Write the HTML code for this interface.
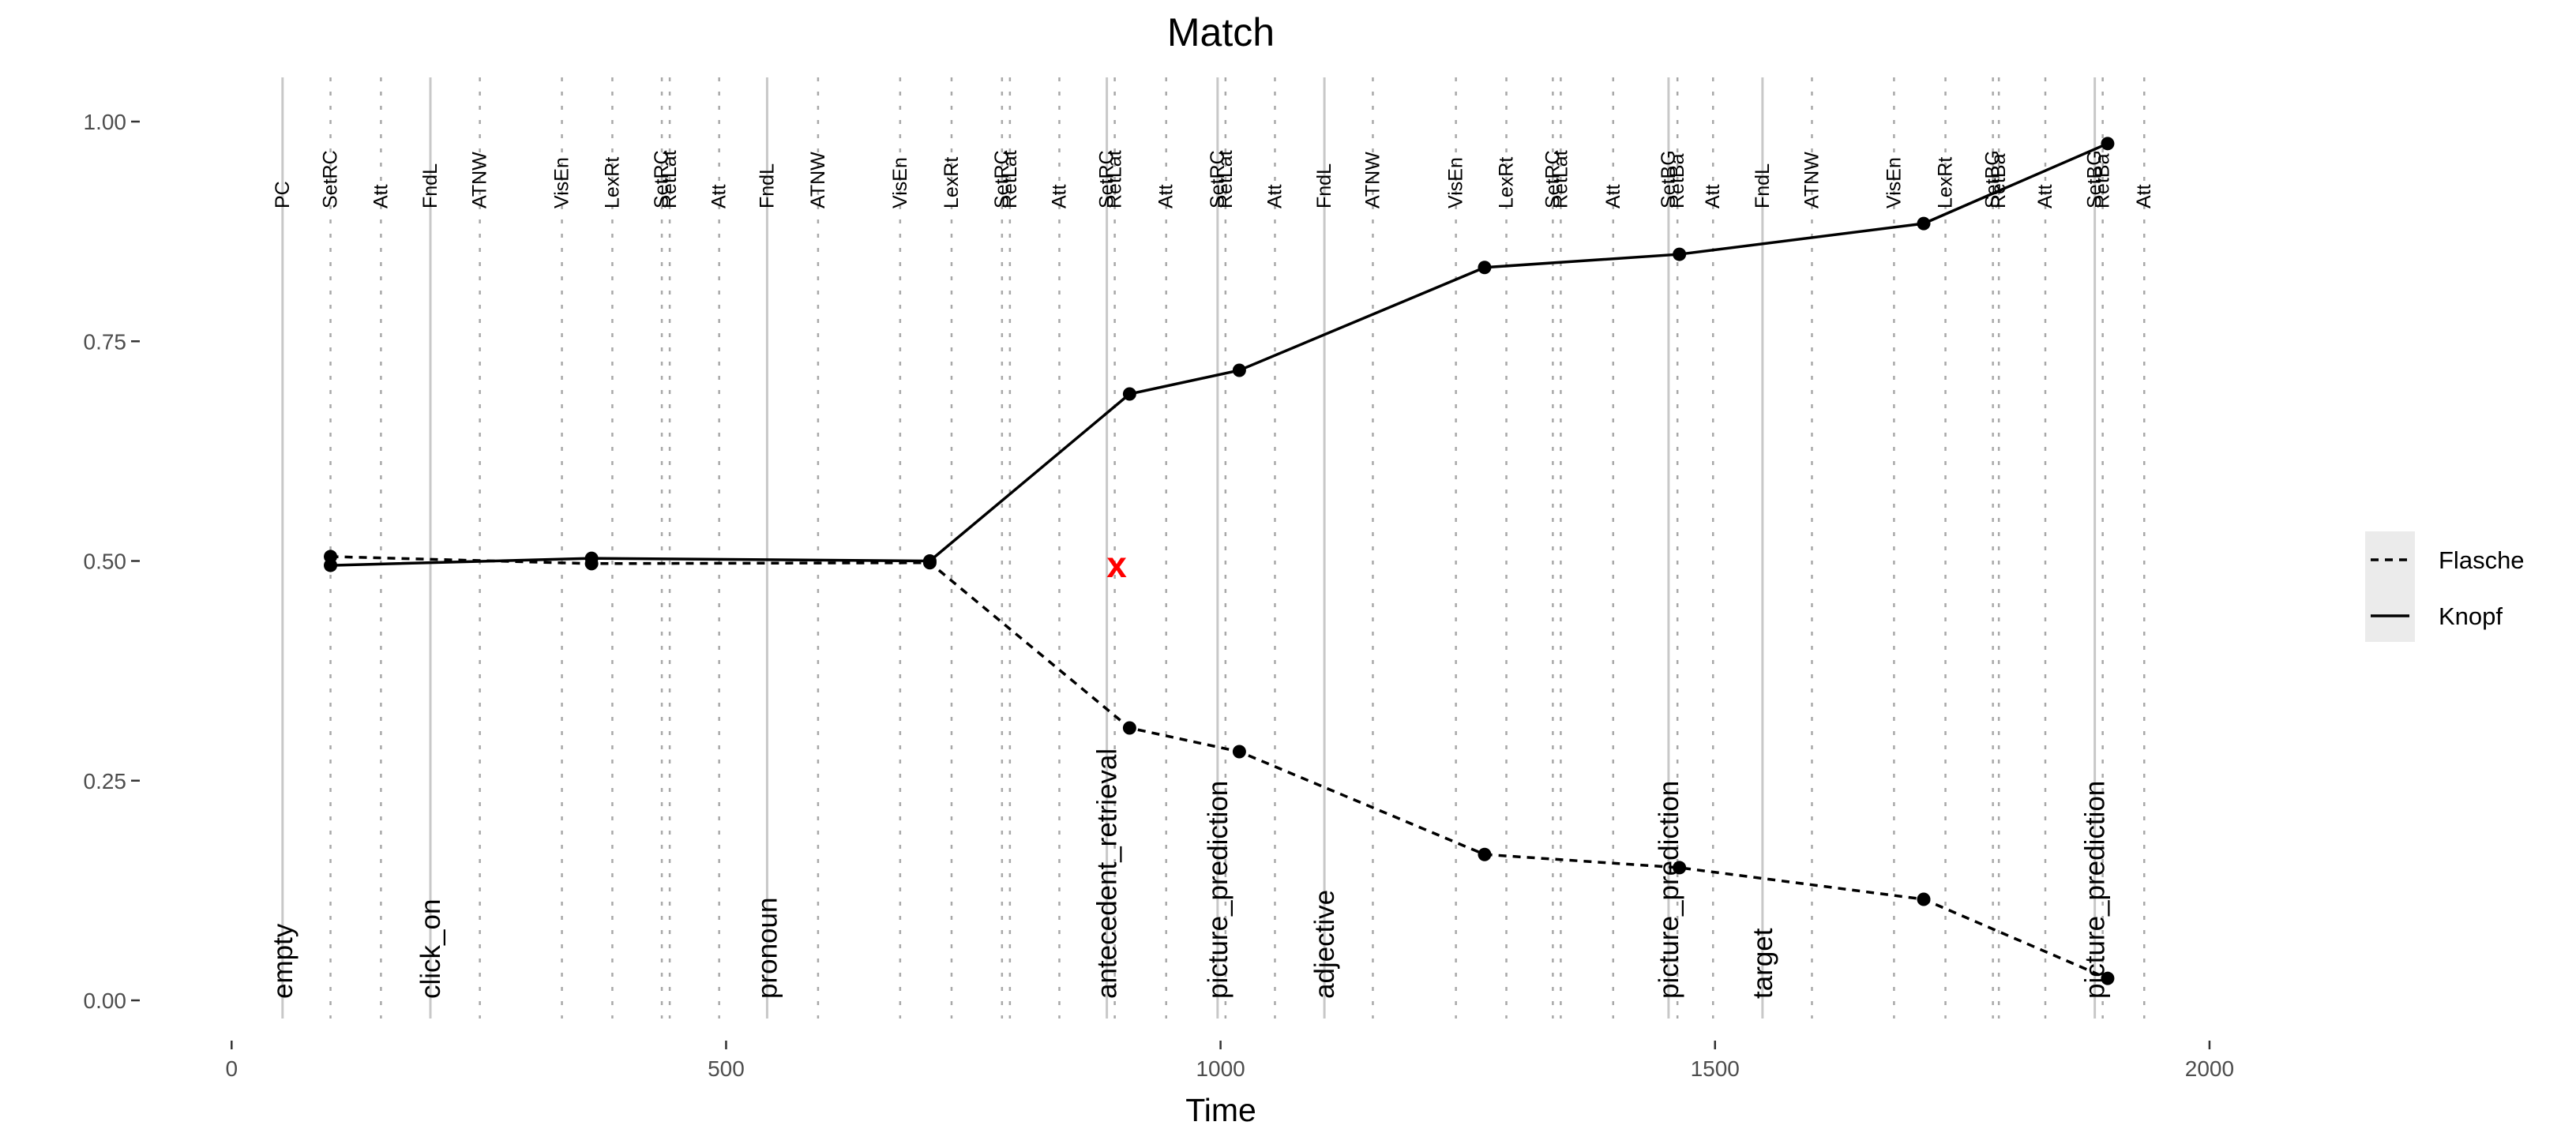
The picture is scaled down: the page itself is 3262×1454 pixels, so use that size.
<!DOCTYPE html>
<html><head><meta charset="utf-8"><style>
html,body{margin:0;padding:0;background:#fff;}
svg{display:block;font-family:"Liberation Sans",sans-serif;}
</style></head><body>
<svg id="chart" width="3262" height="1454" viewBox="0 0 3262 1454">
<text x="1546" y="58" font-size="50" text-anchor="middle" fill="#000">Match</text>
<g id="vlines"></g>
<g id="toplabels"></g>
<g id="botlabels"></g>
<g id="series"></g>
<g id="axes"></g>
<text x="1546" y="1420" font-size="41" text-anchor="middle" fill="#000">Time</text>
<g>
  <rect x="2995" y="673" width="63" height="140" fill="#ebebeb"/>
  <line x1="3002" y1="709" x2="3051" y2="709" stroke="#000" stroke-width="3.5" stroke-dasharray="10,8"/>
  <line x1="3002" y1="780" x2="3051" y2="780" stroke="#000" stroke-width="3.5"/>
  <text x="3088" y="720" font-size="31">Flasche</text>
  <text x="3088" y="791" font-size="31">Knopf</text>
</g>
</svg>
<script>
const times = [100, 364, 706, 908, 1019, 1267, 1464, 1711, 1897];
const knopf = [0.495, 0.503, 0.500, 0.690, 0.717, 0.834, 0.849, 0.884, 0.975];
const flasche = [0.505, 0.497, 0.498, 0.310, 0.283, 0.166, 0.151, 0.115, 0.025];
const topTimes = [51.5,100,151,201,251,334,385,435,443,493,541.5,593,676,728,779,787,837,885,893,945,997,1005,1055,1105,1154,1238,1289,1336,1344,1397,1453,1462,1498,1548,1598,1681,1733,1781,1787,1834,1884,1892,1934];
const topNames = ["PC","SetRC","Att","FndL","ATNW","VisEn","LexRt","SetRC","RetLat","Att","FndL","ATNW","VisEn","LexRt","SetRC","RetLat","Att","SetRC","RetLat","Att","SetRC","RetLat","Att","FndL","ATNW","VisEn","LexRt","SetRC","RetLat","Att","SetBG","RetBa","Att","FndL","ATNW","VisEn","LexRt","SetBG","RetBa","Att","SetBG","RetBa","Att"];
const botTimes = [51.5,201,541.5,885,997,1105,1453,1548,1884];
const botNames = ["empty","click_on","pronoun","antecedent_retrieval","picture_prediction","adjective","picture_prediction","target","picture_prediction"];
const xTicks = [0,500,1000,1500,2000];
const yTicks = [0,0.25,0.5,0.75,1];
const yTickLabels = ["0.00","0.25","0.50","0.75","1.00"];
const markerT = 895, markerV = 0.495;

const NS="http://www.w3.org/2000/svg";
const X=t=>293.3+t*1.2523;
const Y=v=>1267-v*1113;
function mk(tag,attrs,parent,txt){const e=document.createElementNS(NS,tag);for(const k in attrs)e.setAttribute(k,attrs[k]);if(txt!==undefined)e.textContent=txt;parent.appendChild(e);return e;}
const vl=document.getElementById('vlines'),tl=document.getElementById('toplabels'),bl=document.getElementById('botlabels'),sg=document.getElementById('series'),ax=document.getElementById('axes');

topTimes.forEach((t,i)=>{
  if(botTimes.indexOf(t)<0){
    const l=mk('line',{x1:X(t),x2:X(t),y1:98,y2:1290,stroke:'#a8a8a8','stroke-width':2.5,'stroke-dasharray':'5,13'},vl);
    
    
  }
  const tx=mk('text',{transform:`translate(${X(t)+8},264) rotate(-90)`,'font-size':25,fill:'#000'},tl,topNames[i]);
  
  
});
botTimes.forEach((t,i)=>{
  const l=mk('line',{x1:X(t),x2:X(t),y1:98,y2:1290,stroke:'#c8c8c8','stroke-width':3},vl);
  
  
  const tx=mk('text',{transform:`translate(${X(t)+12},1265) rotate(-90)`,'font-size':35,fill:'#000'},bl,botNames[i]);
  
  
});
function series(vals,dash,name){
  const p=mk('polyline',{points:times.map((t,i)=>X(t)+','+Y(vals[i])).join(' '),fill:'none',stroke:'#000','stroke-width':3.5,'stroke-dasharray':dash},sg);
  
  
  times.forEach((t,i)=>{
    const c=mk('circle',{cx:X(t),cy:Y(vals[i]),r:8.5,fill:'#000'},sg);
    
    
  });
}
series(flasche,'10,8','flasche');
series(knopf,'none','knopf');
const mx=mk('text',{x:X(markerT),y:Y(markerV)+15,'font-size':46,'font-weight':'bold',fill:'#ff0000','text-anchor':'middle'},sg,'x');



yTicks.forEach((v,i)=>{
  const l=mk('line',{x1:166,x2:177,y1:Y(v),y2:Y(v),stroke:'#333','stroke-width':2.5},ax);
  
  
  const t=mk('text',{x:160,y:Y(v)+10,'font-size':28,fill:'#4d4d4d','text-anchor':'end'},ax,yTickLabels[i]);
  
  
});
xTicks.forEach(v=>{
  const l=mk('line',{x1:X(v),x2:X(v),y1:1318,y2:1329,stroke:'#333','stroke-width':2.5},ax);
  
  
  const t=mk('text',{x:X(v),y:1363,'font-size':28,fill:'#4d4d4d','text-anchor':'middle'},ax,String(v));
  
  
});
</script>
</body></html>
